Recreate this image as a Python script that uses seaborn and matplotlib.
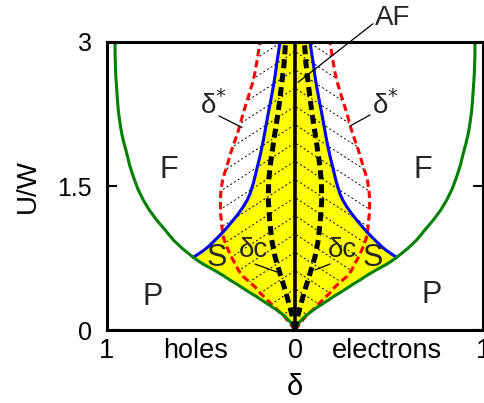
import numpy as np
import pandas as pd
import matplotlib
matplotlib.use("Agg")
import matplotlib.pyplot as plt
import seaborn as sns
from matplotlib.patches import Polygon

sns.set_theme(style="white")
plt.rcParams['font.family'] = ['Liberation Sans', 'DejaVu Sans']

# ---- data (right half, electrons side; left half is mirrored) ----
green_d = [0, 0.010, 0.027, 0.045, 0.062, 0.080, 0.097, 0.125, 0.151, 0.180, 0.204, 0.240,
           0.275, 0.310, 0.346, 0.380, 0.416, 0.450, 0.487, 0.515, 0.541,
           0.600, 0.647, 0.690, 0.736, 0.775, 0.807, 0.836, 0.860, 0.880, 0.895,
           0.910, 0.922, 0.932, 0.940, 0.945, 0.949, 0.953, 0.955, 0.957, 0.957]
green_U = [0, 0.045, 0.087, 0.125, 0.156, 0.183, 0.208, 0.245, 0.278, 0.315, 0.347, 0.390,
           0.434, 0.478, 0.521, 0.565, 0.608, 0.645, 0.685, 0.720, 0.757,
           0.850, 0.9375, 1.040, 1.146, 1.250, 1.354, 1.470, 1.597, 1.720, 1.840,
           1.950, 2.050, 2.170, 2.290, 2.410, 2.530, 2.640, 2.740, 2.870, 3.0]

blue_d = [0.541, 0.515, 0.488, 0.460, 0.434, 0.408, 0.381, 0.355, 0.328, 0.300, 0.275,
          0.255, 0.239, 0.220, 0.204, 0.185, 0.168, 0.155, 0.142, 0.128, 0.115, 0.105,
          0.097, 0.088, 0.080]
blue_U = [0.757, 0.790, 0.826, 0.870, 0.920, 0.970, 1.024, 1.083, 1.146, 1.215, 1.285,
          1.350, 1.420, 1.540, 1.670, 1.820, 1.980, 2.120, 2.260, 2.400, 2.540, 2.660,
          2.780, 2.890, 3.0]

red_d = [0, 0.06, 0.10, 0.151, 0.185, 0.213, 0.245, 0.275, 0.300, 0.319, 0.340, 0.355,
         0.370, 0.381, 0.388, 0.392, 0.396, 0.397, 0.395, 0.391, 0.385, 0.375, 0.363,
         0.350, 0.337, 0.318, 0.301, 0.288, 0.275, 0.262, 0.248, 0.235, 0.222, 0.212,
         0.204, 0.195, 0.186]
red_U = [0, 0.15, 0.22, 0.32, 0.385, 0.45, 0.505, 0.556, 0.620, 0.694, 0.765, 0.833,
         0.900, 0.972, 1.060, 1.146, 1.220, 1.300, 1.420, 1.490, 1.560, 1.630, 1.700,
         1.790, 1.875, 1.980, 2.080, 2.170, 2.260, 2.345, 2.430, 2.515, 2.600, 2.690,
         2.780, 2.890, 3.0]

dc_d = [0, 0.009, 0.027, 0.053, 0.080, 0.106, 0.124, 0.135, 0.142, 0.140, 0.130,
        0.110, 0.090, 0.072, 0.058, 0.050]
dc_U = [0, 0.10, 0.24, 0.42, 0.59, 0.76, 0.94, 1.15, 1.35, 1.56, 1.74,
        2.01, 2.26, 2.54, 2.78, 3.0]

af_d = [0, 0]
af_U = [0, 3]

xtick_pos = [-1, -0.53, 0, 0.49, 1]
xtick_lab = ['1', 'holes', '0', 'electrons', '1']
ytick_pos = [0, 1.5, 3]
ytick_lab = ['0', '1.5', '3']

# ---- figure ----
fig = plt.figure(figsize=(4.85, 4.03), dpi=100)
ax = fig.add_axes([0.2206, 0.1811, 0.7753, 0.7147])
ax.set_facecolor('white')

gd, gU = np.array(green_d), np.array(green_U)
bd, bU = np.array(blue_d), np.array(blue_U)
rd, rU = np.array(red_d), np.array(red_U)
cd, cU = np.array(dc_d), np.array(dc_U)

# yellow region (green below S point, blue above)
nS = int(np.argmin(np.abs(gU - bU[0])))
out_U = np.concatenate([gU[:nS + 1], bU[1:]])
out_d = np.concatenate([gd[:nS + 1], bd[1:]])
ax.fill_betweenx(out_U, -out_d, out_d, color='#ffff00', lw=0, zorder=1)

# hatched region between the delta* curves
poly = np.vstack([np.column_stack([rd, rU]), np.column_stack([-rd[::-1], rU[::-1]])])
clip = Polygon(poly, closed=True, facecolor='none', edgecolor='none', transform=ax.transData)
ax.add_patch(clip)
k = 1.27
hx = np.array([-0.5, 0.0, 0.5])
for b in np.arange(0.05, 3.0 + 0.7, 0.19):
    ln, = ax.plot(hx, b - k * np.abs(hx), color='black', lw=0.7,
                  linestyle=(0, (2.0, 2.5)), zorder=2)
    ln.set_clip_path(clip)

def curve(d, U, **kw):
    for s in (1, -1):
        df = pd.DataFrame({'d': s * d, 'U': U})
        sns.lineplot(data=df, x='d', y='U', sort=False, estimator=None, ax=ax, **kw)

curve(rd, rU, color='#ff0000', lw=2.2, linestyle=(0, (2.4, 1.3)), zorder=3)
curve(bd, bU, color='#0000ff', lw=2.2, zorder=3)
curve(gd, gU, color='#008000', lw=2.2, zorder=4)
curve(cd, cU, color='black', lw=3.6, linestyle=(0, (1.8, 1.0)), zorder=4)
sns.lineplot(x=af_d, y=af_U, sort=False, estimator=None, ax=ax, color='black', lw=2.6, zorder=5)

# labels
fs = 22
for x, y, t in [(-0.670, 1.667, 'F'), (0.681, 1.667, 'F'),
                (-0.755, 0.344, 'P'), (0.729, 0.365, 'P'),
                (-0.415, 0.75, 'S'), (0.415, 0.75, 'S')]:
    ax.text(x, y, t, fontsize=fs, ha='center', va='center', zorder=6)
for x, y in [(-0.223, 0.833), (0.25, 0.833)]:
    ax.text(x, y, 'δc', fontsize=20, ha='center', va='center', zorder=6)
for x, y in [(-0.436, 2.34), (0.479, 2.34)]:
    ax.text(x, y, 'δ$^{*}$', fontsize=20, ha='center', va='center', zorder=6)
ax.text(0.521, 3.25, 'AF', fontsize=20, ha='center', va='center', zorder=6)

# leader lines
for (x0, y0), (x1, y1) in [((0.415, 3.19), (0.016, 2.58)),
                           ((-0.404, 2.23), (-0.282, 2.11)),
                           ((0.399, 2.24), (0.293, 2.125)),
                           ((-0.213, 0.6875), (-0.096, 0.604)),
                           ((0.186, 0.6875), (0.106, 0.625))]:
    ax.plot([x0, x1], [y0, y1], color='black', lw=0.9, zorder=6, clip_on=False)

ax.set_xlim(-1, 1)
ax.set_ylim(0, 3)
ax.set_xticks(xtick_pos)
ax.set_xticklabels(xtick_lab)
ax.set_yticks(ytick_pos)
ax.set_yticklabels(ytick_lab)
ax.tick_params(axis='x', length=0, labelsize=19.5, pad=6, colors='black')
ax.tick_params(axis='y', direction='in', length=7, width=1.5, left=True, right=True,
               labelsize=18, pad=11, colors='black')
ax.set_xlabel('δ', fontsize=21, labelpad=6, color='black')
ax.set_ylabel('U/W', fontsize=20, labelpad=12, color='black')
for sp in ax.spines.values():
    sp.set_visible(True)
    sp.set_color('black')
    sp.set_linewidth(2.2)
    sp.set_zorder(10)

fig.savefig('out.png', dpi=100)
